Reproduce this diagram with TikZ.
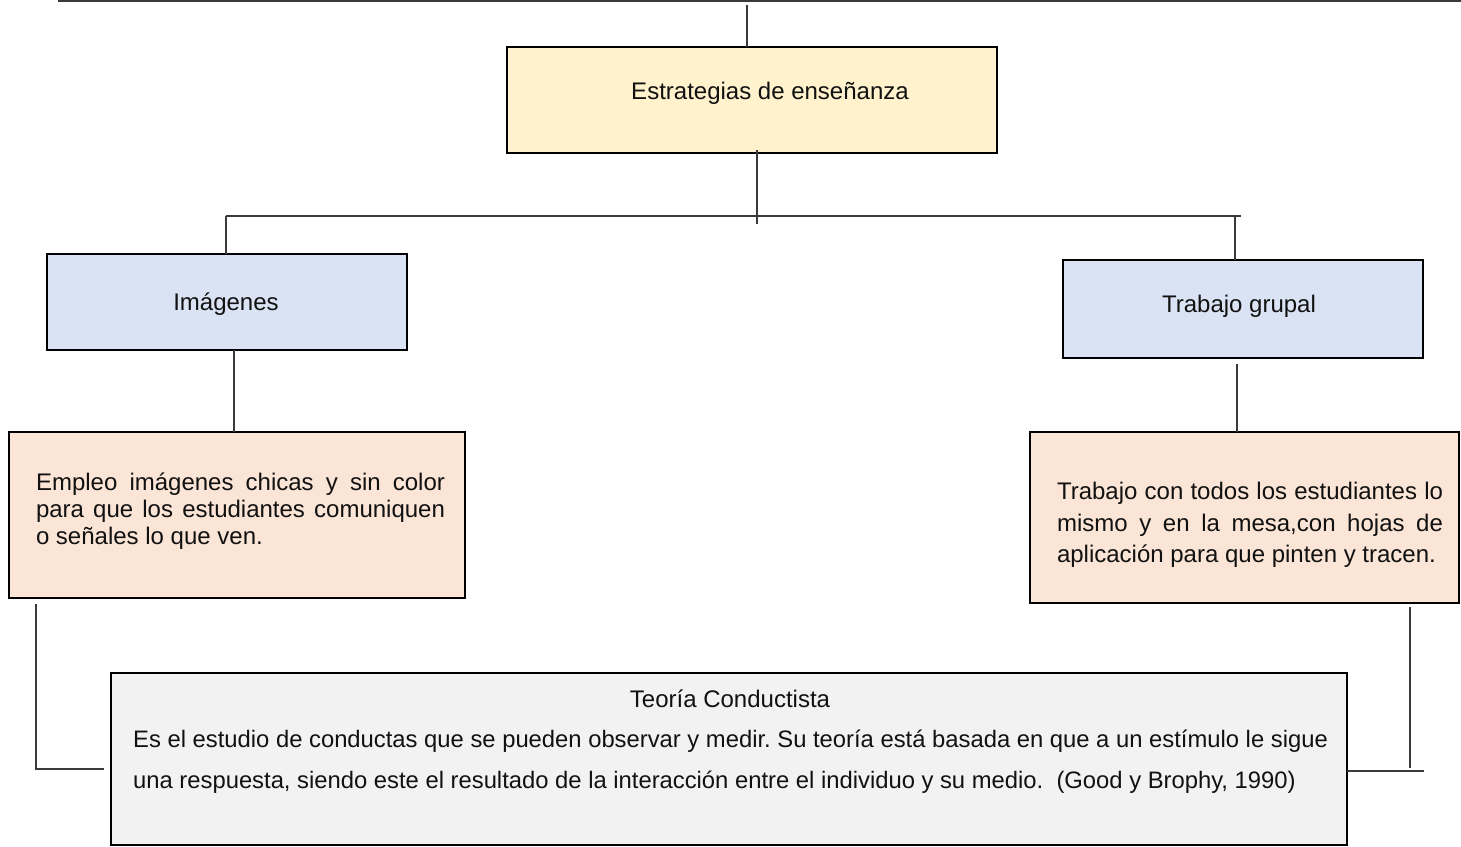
\documentclass[tikz,border=0pt]{standalone}
\usepackage{fontspec}
\setmainfont{Liberation Sans}
\frenchspacing
\definecolor{ybox}{HTML}{FFF2CC}
\definecolor{bbox}{HTML}{DAE3F3}
\definecolor{pbox}{HTML}{FBE5D6}
\definecolor{gbox}{HTML}{F2F2F2}
\definecolor{lncol}{HTML}{3A3A3A}
\definecolor{txt}{HTML}{111111}
\begin{document}
\begin{tikzpicture}[x=1pt,y=-1pt,
  boxst/.style={draw=black, line width=2.9pt, inner sep=0pt, outer sep=0pt},
  lbl/.style={inner sep=0pt, text=txt, font=\fontsize{24}{28}\selectfont},
  conn/.style={draw=lncol, line width=1.3pt}]
\useasboundingbox (0,0) rectangle (1461,846);
% boxes
\node[boxst, fill=ybox, minimum width=490pt, minimum height=106pt] (est) at (752,100) {};
\node[boxst, fill=bbox, minimum width=360pt, minimum height=96pt] (img) at (227,302) {};
\node[boxst, fill=bbox, minimum width=360pt, minimum height=98pt] (grp) at (1243,309) {};
\node[boxst, fill=pbox, minimum width=456pt, minimum height=166pt] (pl) at (237,515) {};
\node[boxst, fill=pbox, minimum width=429pt, minimum height=171pt] (pr) at (1244.5,517.5) {};
\node[boxst, fill=gbox, minimum width=1236pt, minimum height=172pt] (gray) at (729,759) {};
% texts
\node[lbl] (estt) at (770,93) {Estrategias de enseñanza};
\node[lbl] (imgt) at (226,304) {Imágenes};
\node[lbl] (grpt) at (1239,306) {Trabajo grupal};
\node[lbl, text width=409pt, align=justify, font=\fontsize{24}{27}\selectfont] (plt) at (240.5,511)
  {Empleo imágenes chicas y sin color para que los estudiantes comuniquen o señales lo que ven.};
\node[lbl, text width=386pt, align=justify, font=\fontsize{24}{31.5}\selectfont] (prt) at (1250,525)
  {Trabajo con todos los estudiantes lo mismo y en la mesa,con hojas de aplicación para que pinten y tracen.};
\node[lbl] (grt) at (730,699) {Teoría Conductista};
\node[lbl, anchor=west, align=left, font=\fontsize{23.8}{41}\selectfont] (grb) at (133,762)
  {Es el estudio de conductas que se pueden observar y medir. Su teoría está basada en que a un estímulo le sigue\\
   una respuesta, siendo este el resultado de la interacción entre el individuo y su medio.\ \ (Good y Brophy, 1990)};
% connectors
\coordinate (tl) at (58,1);
\coordinate (tr) at (1461,1);
\coordinate (t1) at (747,5);
\coordinate (j) at (757,224);
\coordinate (hl) at (226,216);
\coordinate (hr) at (1241,216);
\coordinate (hv) at (1235,216);
\coordinate (lc) at (36,769);
\coordinate (rc) at (1410,768);
\coordinate (rc2) at (1424,771);
\draw[draw=lncol, line width=2pt] (tl) -- (tr);
\draw[conn] (t1) -- (t1 |- est.north);
\draw[conn] ([yshift=3pt]est.south -| j) -- (j);
\draw[conn] (hl) -- (hr);
\draw[conn] (hl) -- (hl |- img.north);
\draw[conn] (hv) -- (hv |- grp.north);
\draw[conn] ([xshift=7pt]img.south) -- ([xshift=-3pt]pl.north);
\draw[conn] ([xshift=-6pt,yshift=-6pt]grp.south) -- ([xshift=-7.5pt]pr.north);
\draw[conn] ([yshift=-6pt]pl.south -| lc) -- (lc) -- ([xshift=-7pt]gray.west |- lc);
\draw[conn] ([yshift=-4pt]pr.south -| rc) -- (rc);
\draw[conn] (gray.east |- rc2) -- (rc2);
\end{tikzpicture}
\end{document}
